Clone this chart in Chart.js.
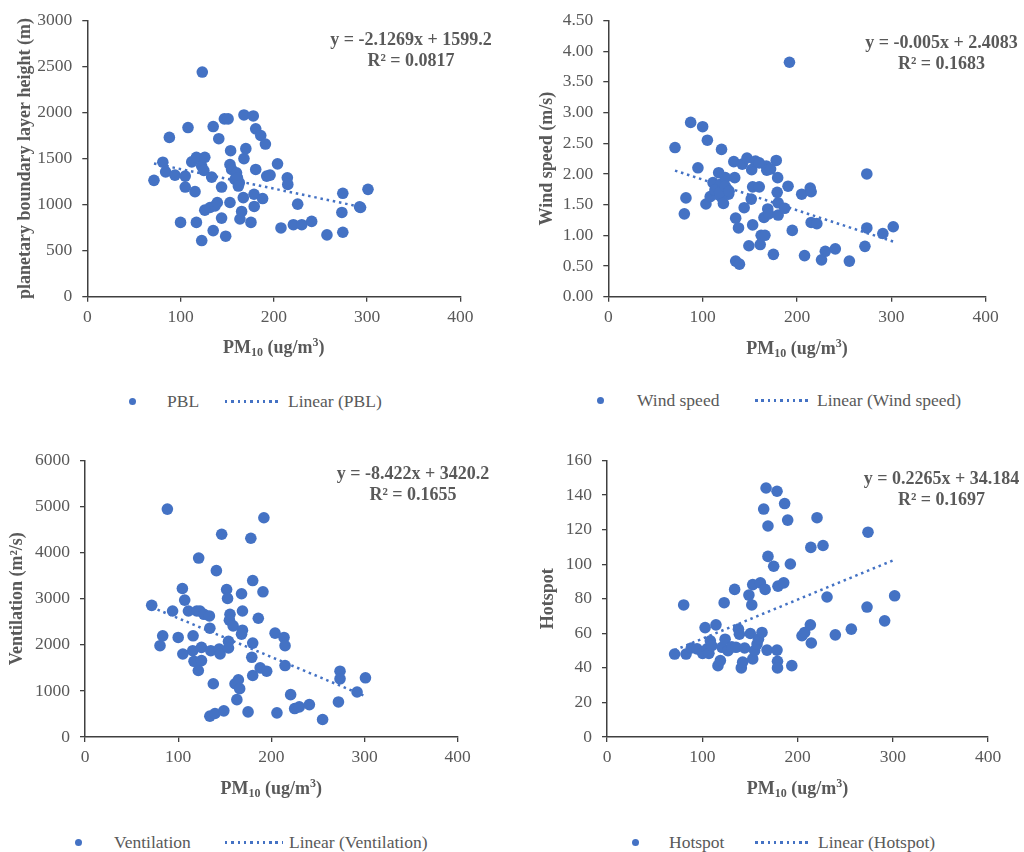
<!DOCTYPE html>
<html>
<head>
<meta charset="utf-8">
<script src="https://cdn.jsdelivr.net/npm/chart.js@4.4.1/dist/chart.umd.min.js"></script>
<style>
  body { margin: 0; background: #fff; font-family: "Liberation Serif", "Times New Roman", serif; }
  #wrap { position: relative; width: 1024px; height: 852px; overflow: hidden; }
  canvas { position: absolute; }
  .eq { position: absolute; width: 240px; text-align: center; font-weight: bold; font-size: 18px; line-height: 21px; color: #595959; }
  .xt { position: absolute; width: 300px; text-align: center; font-weight: bold; font-size: 18px; line-height: 20px; color: #595959; }
  .xt sub { font-size: 12px; vertical-align: -3px; line-height: 0; }
  .xt sup { font-size: 12px; vertical-align: 7px; line-height: 0; }
  .lg { position: absolute; font-size: 17.5px; line-height: 20px; color: #595959; white-space: nowrap; }
  .dot { position: absolute; width: 7px; height: 7px; border-radius: 50%; background: #4472C4; }
  .dash { position: absolute; height: 2.5px; background: repeating-linear-gradient(to right, #4472C4 0 2.5px, transparent 2.5px 6.3px); }
</style>
</head>
<body>
<div id="wrap"></div>
<script>
// PM10 vs planetary boundary layer height
const pblX = [71.5, 81, 84, 88, 94, 100, 105, 105, 108, 112, 115.5, 117, 117, 122.7, 122.7, 123.3, 125, 126, 126, 131.6,
  133.4, 135, 135, 137, 139.4, 141, 144, 144, 147, 148.4, 151, 153.7, 153, 153, 154.8, 158.4, 160, 163, 163.7, 165.5,
  167.3, 168, 168, 170, 175.5, 178, 179, 178.8, 180.6, 180.6, 186, 188, 191, 192.4, 196, 204, 207.7, 214.5, 215, 221,
  225.6, 230, 240.6, 257, 273, 274, 274, 292, 293, 301, 161, 162];
const pblY = [1264, 1461, 1356, 1730, 1320, 807, 1310, 1191, 1837, 1464, 1141, 807, 1514, 1418, 610, 2440, 1371, 1514, 940, 969,
  1299, 1848, 718, 987, 1023, 1716, 1191, 854, 1931, 657, 1931, 1586, 1436, 1023, 1382, 1274, 1346, 1238, 844, 926,
  1076, 1500, 1974, 1608, 807, 1963, 980, 1113, 1823, 1382, 1751, 1066, 1658, 1310, 1321, 1443, 747, 1292, 1220, 782,
  1005, 782, 818, 671, 915, 1123, 700, 976, 969, 1166, 1292, 1202];

// PM10 vs wind speed
const windX = [70.7, 80.6, 82.3, 87.3, 95, 100, 103.5, 105, 108, 111, 115, 117, 119, 120, 120.5, 122, 124, 126, 127.5, 133,
  134, 135, 135, 138, 139, 142, 144, 147, 149, 151.5, 152, 153, 153, 156, 160, 162, 161, 165, 166, 167.5,
  168, 169, 170, 175, 178, 179, 179.5, 180, 180, 187, 190.5, 192, 195, 205, 208, 214, 215, 215, 221, 226,
  230, 240.6, 255.5, 272, 274, 274, 291, 302, 113, 118, 124, 128, 160, 172];
const windY = [2.43, 1.35, 1.61, 2.84, 2.10, 2.77, 1.51, 2.55, 1.63, 1.86, 1.67, 2.02, 1.83, 2.40, 1.61, 1.52, 1.94, 1.75, 1.67, 2.20,
  1.94, 1.28, 0.58, 1.12, 0.53, 2.16, 1.45, 2.26, 0.83, 1.59, 2.07, 1.17, 1.79, 2.21, 1.79, 1.00, 0.85, 1.29, 1.00, 2.13,
  2.06, 1.43, 1.35, 0.69, 2.22, 1.70, 1.94, 1.53, 1.33, 1.44, 1.80, 3.82, 1.08, 1.67, 0.67, 1.77, 1.71, 1.21, 1.19, 0.60,
  0.74, 0.78, 0.58, 0.82, 2.00, 1.12, 1.03, 1.14, 1.74, 1.70, 1.80, 1.72, 2.18, 2.08];

// PM10 vs ventilation
const ventX = [71.6, 80.5, 83.4, 88.4, 94, 100, 104.5, 105, 107, 111, 116, 115.6, 117, 120, 121.6, 122, 123.4, 125, 125, 127.7,
  133.5, 134, 134, 135, 137.7, 139.5, 141, 144, 145, 146.7, 149, 152, 153, 154, 154, 155.6, 155, 159, 161, 163,
  164.6, 166, 168, 169, 169, 168, 175, 178, 179, 180, 180, 180, 186, 188, 191, 192, 195, 204, 206, 213.6,
  214.7, 214.7, 220.7, 225, 230, 240.8, 255, 272, 273.7, 273.7, 292, 301];
const ventY = [2857, 1981, 2196, 4945, 2734, 2160, 3222, 1801, 2971, 2734, 2196, 1873, 1643, 2734, 1443, 3883, 2734, 1658, 1945, 2663,
  2627, 2361, 452, 1873, 1155, 510, 3610, 1909, 1801, 4400, 567, 3201, 3007, 2074, 1931, 2663, 2534, 2411, 1155, 811,
  1242, 1048, 3108, 2734, 2318, 2232, 545, 4313, 1730, 2038, 1335, 3395, 2577, 1500, 3151, 4758, 1428, 2254, 524, 2160,
  1981, 1550, 919, 617, 653, 703, 380, 761, 1428, 1263, 976, 1285];

// PM10 vs hotspot count
const hotX = [71, 80.5, 83, 88.5, 94.5, 100.4, 103, 105, 107, 108.5, 110, 114.4, 116.5, 119, 120.7, 123, 124, 127, 131, 134,
  135.4, 138, 139, 141, 142.4, 144.5, 149, 150.5, 152, 153, 153, 155, 157.5, 159, 161, 162.7, 164.5, 166, 167, 168,
  169, 169, 175, 178.5, 178.5, 179, 179, 179.5, 185.5, 186.5, 189.7, 192.5, 194, 204.7, 207.5, 213.5, 214, 214.5, 220.5, 226.8,
  231, 239.7, 256.5, 273, 274, 291.5, 302];
const hotY = [48, 76.4, 48, 51.5, 51, 48.4, 63.3, 51, 48.4, 55.7, 52.8, 64.9, 41.3, 44.2, 51.9, 77.7, 56.6, 50, 52.2, 85.4,
  51.9, 62.4, 59.5, 40, 43.3, 51.5, 82.1, 59.9, 76.4, 88.2, 45.2, 50, 53.8, 56.6, 89.2, 60.5, 131.9, 85.4, 144.1, 50.3,
  122.1, 104.5, 98.8, 142.2, 50.3, 43.8, 40, 87.3, 89.2, 135.1, 125.5, 100.1, 41.3, 58.6, 60.5, 64.9, 109.7, 54.4, 126.9, 110.8,
  81, 59.1, 62.4, 75.2, 118.5, 67.2, 81.7];

// trend lines as printed on the chart: [slope, intercept]
const pblFit = [-2.1269, 1599.2];
const windFit = [-0.005, 2.4083];
const ventFit = [-8.422, 3420.2];
const hotFit = [0.2265, 34.184];

const xTicks = [0, 100, 200, 300, 400];

const BLUE = "#4472C4";
const GREY = "#595959";
const FONT = "'Liberation Serif', 'Times New Roman', serif";

const panels = [
  { name: "PBL", xs: pblX, ys: pblY, fit: pblFit, yMax: 3000, yStep: 500, dec: 0,
    yTitle: "planetary boundary layer height (m)", eq: ["y = -2.1269x + 1599.2", "R² = 0.0817"],
    left: 0, top: 0, yW: 87.3, padTop: 18, padRight: 51.7, xH: 63.3, yTitlePad: 14.2,
    eqX: 411, eqY: 28.5, xtY: 337, lg: { y: 401, dot: 132, t1: 167, l1: 225, l2: 282, t2: 288 } },
  { name: "Wind speed", xs: windX, ys: windY, fit: windFit, yMax: 4.5, yStep: 0.5, dec: 2,
    yTitle: "Wind speed (m/s)", eq: ["y = -0.005x + 2.4083", "R² = 0.1683"],
    left: 512, top: 0, yW: 96.3, padTop: 18, padRight: 38.3, xH: 63.3, yTitlePad: 24.2,
    eqX: 941.5, eqY: 31.5, xtY: 338, lg: { y: 400, dot: 600, t1: 637, l1: 755, l2: 810, t2: 817 } },
  { name: "Ventilation", xs: ventX, ys: ventY, fit: ventFit, yMax: 6000, yStep: 1000, dec: 0,
    yTitle: "Ventilation (m²/s)", eq: ["y = -8.422x + 3420.2", "R² = 0.1655"],
    left: 0, top: 440, yW: 85, padTop: 18.3, padRight: 54.3, xH: 63, yTitlePad: 6.2,
    eqX: 413, eqY: 462.5, xtY: 778, lg: { y: 842, dot: 78, t1: 114, l1: 225, l2: 283, t2: 289 } },
  { name: "Hotspot", xs: hotX, ys: hotY, fit: hotFit, yMax: 160, yStep: 20, dec: 0,
    yTitle: "Hotspot", eq: ["y = 0.2265x + 34.184", "R² = 0.1697"],
    left: 512, top: 440, yW: 95, padTop: 18.3, padRight: 36, xH: 63, yTitlePad: 25.9,
    eqX: 941.5, eqY: 467.5, xtY: 778, lg: { y: 842, dot: 635, t1: 669, l1: 755, l2: 810, t2: 818 } }
];

const wrap = document.getElementById("wrap");

function addDiv(cls, css, html) {
  const d = document.createElement("div");
  d.className = cls;
  Object.assign(d.style, css);
  if (html !== undefined) d.innerHTML = html;
  wrap.appendChild(d);
  return d;
}

function drawPanel(p) {
  const canvas = document.createElement("canvas");
  canvas.width = 512;
  canvas.height = 360;
  canvas.style.left = p.left + "px";
  canvas.style.top = p.top + "px";
  wrap.appendChild(canvas);

  const pts = p.xs.map((x, i) => ({ x, y: p.ys[i] }));
  const x0 = Math.min(...p.xs), x1 = Math.max(...p.xs);
  const trend = [x0, x1].map(x => ({ x, y: p.fit[0] * x + p.fit[1] }));

  const tickFont = { family: FONT, size: 17.5 };
  const axisGrid = { drawOnChartArea: false, drawTicks: true, tickLength: 5, color: "#404040", lineWidth: 1.3 };
  const axisBorder = { color: "#404040", width: 1.5 };

  new Chart(canvas, {
    type: "scatter",
    data: {
      datasets: [
        { label: p.name, data: pts, backgroundColor: BLUE, borderWidth: 0, pointRadius: 5.8, order: 1 },
        { label: "Linear (" + p.name + ")", type: "line", data: trend, borderColor: BLUE, borderWidth: 2.5,
          borderDash: [2.5, 3.8], pointRadius: 0, fill: false, order: 2 }
      ]
    },
    options: {
      responsive: false,
      animation: false,
      events: [],
      layout: { padding: { top: p.padTop, right: p.padRight, left: 0, bottom: 0 } },
      plugins: { legend: { display: false }, tooltip: { enabled: false } },
      scales: {
        x: {
          type: "linear", min: 0, max: 400,
          afterBuildTicks: s => { s.ticks = xTicks.map(v => ({ value: v })); },
          ticks: { font: tickFont, color: GREY, padding: 5, maxRotation: 0 },
          grid: axisGrid, border: axisBorder,
          afterFit: s => { s.height = p.xH; }
        },
        y: {
          type: "linear", min: 0, max: p.yMax,
          ticks: { stepSize: p.yStep, font: tickFont, color: GREY, padding: 10,
            callback: v => v.toFixed(p.dec) },
          grid: axisGrid, border: axisBorder,
          title: { display: true, text: p.yTitle, color: GREY,
            font: { family: FONT, size: 18, weight: "bold" }, padding: { top: p.yTitlePad, bottom: 0 } },
          afterFit: s => { s.width = p.yW; }
        }
      }
    }
  });

  // x axis title with sub/superscript
  const cx = p.left + (p.yW + 512 - p.padRight) / 2;
  addDiv("xt", { left: (cx - 150) + "px", top: p.xtY + "px" }, "PM<sub>10</sub> (ug/m<sup>3</sup>)");

  // regression equation
  addDiv("eq", { left: (p.eqX - 120) + "px", top: p.eqY + "px" }, p.eq[0] + "<br>" + p.eq[1]);

  // legend
  const lg = p.lg;
  addDiv("dot", { left: (lg.dot - 3.5) + "px", top: (lg.y - 3.5) + "px" });
  addDiv("lg", { left: lg.t1 + "px", top: (lg.y - 10) + "px" }).textContent = p.name;
  addDiv("dash", { left: lg.l1 + "px", width: (lg.l2 - lg.l1) + "px", top: (lg.y - 1) + "px" });
  addDiv("lg", { left: lg.t2 + "px", top: (lg.y - 10) + "px" }).textContent = "Linear (" + p.name + ")";
}

panels.forEach(drawPanel);
</script>
</body>
</html>
